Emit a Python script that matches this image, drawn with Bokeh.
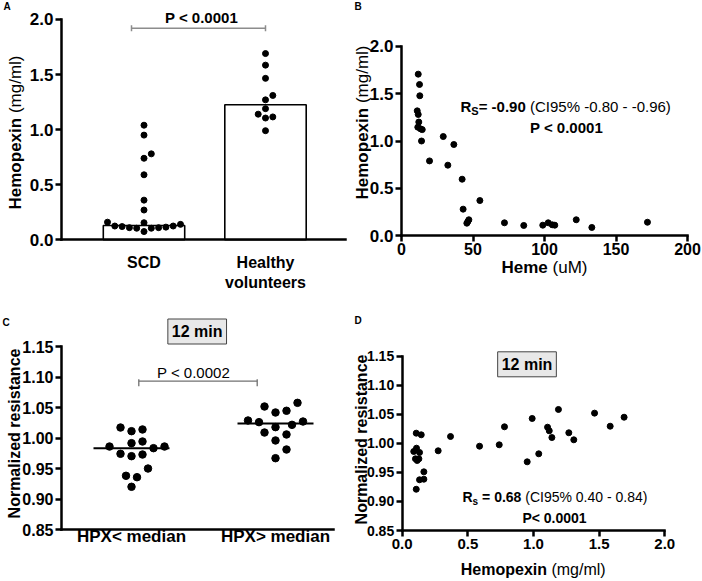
import math
from bokeh.plotting import figure
from bokeh.layouts import row, column
from bokeh.models import Label, Range1d, FixedTicker, LinearAxis, PrintfTickFormatter
from bokeh.embed import file_html
from bokeh.resources import INLINE

# ---------------- data ----------------
groups_a = ["SCD", "Healthy\nvolunteers"]
scd_hpx = [1.04, 0.95, 0.78, 0.74, 0.59, 0.36, 0.27, 0.155, 0.125, 0.12, 0.11,
           0.105, 0.16, 0.075, 0.105, 0.11, 0.115, 0.125, 0.14]
healthy_hpx = [1.69, 1.585, 1.465, 1.31, 1.27, 1.19, 1.115, 1.105, 1.14, 0.99]
bar_median_a = [0.13, 1.225]
p_text_a = "P < 0.0001"

heme_um = [11.7, 12.6, 12.8, 11.0, 11.7, 12.1, 11.4, 13.3, 14.5, 14.0,
           29.2, 36.6, 19.6, 32.4, 42.4, 54.8, 43.1, 45.7, 47.1, 46.4,
           72.0, 85.5, 98.8, 102.6, 105.4, 107.2, 122.2, 133.1, 172.0]
heme_hpx = [1.705, 1.596, 1.477, 1.318, 1.28, 1.2, 1.146, 1.128, 1.12, 1.0,
            1.047, 0.963, 0.79, 0.745, 0.597, 0.372, 0.281, 0.133, 0.169, 0.15,
            0.137, 0.109, 0.112, 0.137, 0.116, 0.112, 0.169, 0.088, 0.143]

groups_c = ["HPX< median", "HPX> median"]
res_low = [1.0174, 1.0114, 1.0142, 0.9945, 0.9918, 0.9863, 0.9836, 0.9863, 0.9744,
           0.9705, 0.9732, 0.9503, 0.9384, 0.9361, 0.9204]
res_high = [1.0578, 1.0448, 1.042, 1.0518, 1.0289, 1.0262, 1.0272, 1.018, 1.0218,
            1.006, 1.0092, 0.9962, 0.9814, 0.9672]
p_text_c = "P < 0.0002"

d_hpx = [0.107, 0.145, 0.088, 0.109, 0.132, 0.101, 0.114, 0.127, 0.165, 0.132, 0.165,
         0.107, 0.274, 0.368, 0.589, 0.739, 0.779, 0.99, 1.19, 1.465, 1.69, 1.584,
         1.107, 1.12, 1.269, 1.14, 1.307, 0.952, 1.04]
d_res = [1.0175, 1.0147, 0.986, 0.9917, 0.9843, 0.9734, 0.9705, 0.9734, 0.951, 0.9373,
         0.9383, 0.921, 0.9872, 1.0118, 0.9951, 0.9975, 1.0285, 1.0428, 1.0583, 1.052,
         1.045, 1.0295, 1.0278, 1.0216, 1.0182, 1.010, 1.0061, 0.9682, 0.982]

hpx_ticks = [0.0, 0.5, 1.0, 1.5, 2.0]
heme_ticks = [0, 50, 100, 150, 200]
res_ticks = [0.85, 0.90, 0.95, 1.00, 1.05, 1.10, 1.15]

# ---------------- helpers ----------------
FONT = "Liberation Sans"
REG = {' ': 278, '(': 333, ')': 333, '%': 889, '-': 333, '.': 278, 'C': 722, 'I': 278,
       'P': 667, '=': 584, '<': 584, '>': 584, 'R': 722, 'S': 667, 's': 500, 'm': 833,
       'g': 556, '/': 278, 'l': 222, 'u': 556, 'M': 833}
BOLD = {' ': 278, '(': 333, ')': 333, '-': 333, '.': 278, '=': 584, '<': 584, '>': 584,
        'R': 722, 'S': 667, 's': 556, 'P': 667, 'H': 722, 'e': 556, 'm': 889, 'o': 611,
        'p': 611, 'x': 556, 'i': 278, 'n': 611, 'N': 722, 'r': 389, 'a': 556, 'l': 278,
        'z': 500, 'd': 611, 't': 333, 'c': 556}


def tw(s, size, bold):
    t = BOLD if bold else REG
    return sum(t.get(ch, 556) for ch in s) * size / 1000.0


class Map:
    """maps pixel positions of the page to data values of one panel"""
    def __init__(self, ix, xv, ppx, iy, yv, ppy):
        self.ix, self.xv, self.ppx, self.iy, self.yv, self.ppy = ix, xv, ppx, iy, yv, ppy

    def X(self, i):
        return self.xv + (i - self.ix) / self.ppx

    def Y(self, j):
        return self.yv - (j - self.iy) / self.ppy


def make_fig(m, cx, cy, w, h):
    p = figure(width=w, height=h, output_backend="svg", toolbar_location=None,
               x_range=Range1d(m.X(cx), m.X(cx + w)), y_range=Range1d(m.Y(cy + h), m.Y(cy)),
               x_axis_location=None, y_axis_location=None,
               min_border=0, min_border_left=0, min_border_right=0,
               min_border_top=0, min_border_bottom=0)
    p.xgrid.visible = False
    p.ygrid.visible = False
    p.outline_line_color = None
    p.background_fill_color = "white"
    p.border_fill_color = "white"
    return p


def add_axis(p, side, loc, bounds, ticks, fmt, size, standoff=2, tick_out=6):
    ax = LinearAxis(fixed_location=loc, bounds=bounds, ticker=FixedTicker(ticks=ticks))
    if fmt is not None:
        ax.formatter = PrintfTickFormatter(format=fmt)
    ax.axis_line_width = 2.5
    ax.axis_line_color = "black"
    ax.axis_line_cap = "square"
    ax.major_tick_line_width = 2.5
    ax.major_tick_line_color = "black"
    ax.major_tick_out = tick_out
    ax.major_tick_in = 0
    ax.minor_tick_line_color = None
    ax.major_label_text_font = FONT
    ax.major_label_text_font_style = "bold"
    ax.major_label_text_font_size = size
    ax.major_label_text_color = "black"
    ax.major_label_standoff = standoff
    p.add_layout(ax, side)
    return ax


def label(p, x, y, text, size, bold=True, align="center", **kw):
    p.add_layout(Label(x=x, y=y, text=text, text_font=FONT, text_font_size=f"{size}px",
                       text_font_style="bold" if bold else "normal", text_color="black",
                       text_align=align, text_baseline="middle", **kw))


def rich(p, segs, x, y, align="center", angle=0.0):
    """segs: (text, size_px, bold, baseline_shift_px) drawn one after another"""
    total = sum(tw(t, s, b) for t, s, b, _ in segs)
    pos = -total / 2 if align == "center" else 0.0
    for t, s, b, sh in segs:
        stripped = t.lstrip(" ")
        pos += tw(t[:len(t) - len(stripped)], s, b)
        if angle == 0:
            xo, yo = pos, sh
        else:
            xo, yo = -sh, pos
        label(p, x, y, stripped, s, b, align="left", angle=angle, x_offset=xo, y_offset=yo)
        pos += tw(stripped, s, b)


def swarm(values, center, ppu_x, ppu_y, gap):
    order = sorted(range(len(values)), key=lambda i: values[i])
    cands = [0.0]
    for j in range(1, 60):
        cands += [j * gap / 2.0, -j * gap / 2.0]
    placed = []
    xs = [0.0] * len(values)
    for i in order:
        py = values[i] * ppu_y
        for c in cands:
            if all((c - qx) ** 2 + (py - qy) ** 2 >= gap * gap - 1e-6 for qx, qy in placed):
                break
        placed.append((c, py))
        xs[i] = center + c / ppu_x
    return xs


# ---------------- panel A ----------------
mA = Map(143.5, 1.0, 121.5, 239.3, 0.0, 110.2)
pA = make_fig(mA, 0, 0, 351, 290)
pA.vbar(x=[1, 2], top=bar_median_a, bottom=0, width=0.67, fill_color="white",
        line_color="black", line_width=1.6)
pA.scatter(swarm(scd_hpx, 1, mA.ppx, mA.ppy, 7.3), scd_hpx, size=6, color="black")
pA.scatter(swarm(healthy_hpx, 2, mA.ppx, mA.ppy, 7.3), healthy_hpx, size=6, color="black")
yb, xl, xr, tk = mA.Y(27.7), mA.X(131), mA.X(265), 3 / mA.ppy
pA.segment(x0=[xl, xl, xr], x1=[xr, xl, xr], y0=[yb, yb + tk, yb + tk], y1=[yb, yb - tk, yb - tk],
           line_color="#8c8c8c", line_width=1.5)
label(pA, mA.X(201), mA.Y(17), p_text_a, 15)
add_axis(pA, "left", mA.X(61), (0, 2), hpx_ticks, "%.1f", "17px")
axA = add_axis(pA, "below", 0, (mA.X(61), mA.X(345)), [1, 2], None, "16px", standoff=14, tick_out=0)
axA.major_label_overrides = {1: groups_a[0], 2: groups_a[1]}
rich(pA, [("Hemopexin", 17, True, 0), (" (mg/ml)", 17, False, 0)], mA.X(15), mA.Y(132),
     angle=math.pi / 2)
label(pA, mA.X(3), mA.Y(6), "A", 10, align="left")

# ---------------- panel B ----------------
mB = Map(401, 0.0, 1.43, 235.3, 0.0, 94.8)
pB = make_fig(mB, 351, 0, 350, 290)
pB.scatter(heme_um, heme_hpx, size=6, color="black")
add_axis(pB, "left", 0, (0, 2), hpx_ticks, "%.1f", "17px")
add_axis(pB, "below", 0, (0, 200), heme_ticks, "%d", "16px", standoff=1)
rich(pB, [("R", 15, True, 0), ("S", 11, True, -4), ("= -0.90", 15, True, 0),
          (" (CI95% -0.80 - -0.96)", 15, False, 0)], mB.X(460), mB.Y(106), align="left")
label(pB, mB.X(566), mB.Y(127), "P < 0.0001", 15)
rich(pB, [("Hemopexin", 17, True, 0), (" (mg/ml)", 17, False, 0)], mB.X(361.5), mB.Y(122),
     angle=math.pi / 2)
rich(pB, [("Heme", 17, True, 0), (" (uM)", 17, False, 0)], mB.X(544), mB.Y(267))
label(pB, mB.X(354), mB.Y(6), "B", 10, align="left")

# ---------------- panel C ----------------
mC = Map(131, 1.0, 144.0, 346, 1.15, 611.0)
pC = make_fig(mC, 0, 290, 351, 290)
pC.scatter(swarm(res_low, 1, mC.ppx, mC.ppy, 11), res_low, size=7.5, color="black")
pC.scatter(swarm(res_high, 2, mC.ppx, mC.ppy, 11), res_high, size=7.5, color="black")
sl, sh_ = sorted(res_low), sorted(res_high)
med_c = [sl[len(sl) // 2], 0.5 * (sh_[len(sh_) // 2 - 1] + sh_[len(sh_) // 2])]
hw = 38 / mC.ppx
pC.segment(x0=[1 - hw, 2 - hw], x1=[1 + hw, 2 + hw], y0=med_c, y1=med_c,
           line_color="black", line_width=2)
yc, xl, xr = mC.Y(380.7), mC.X(138.3), mC.X(256.7)
pC.segment(x0=[xl, xl, xr], x1=[xr, xl, xr],
           y0=[yc, yc + 2 / mC.ppy, yc + 2 / mC.ppy], y1=[yc, yc - 5 / mC.ppy, yc - 5 / mC.ppy],
           line_color="#707070", line_width=1.3)
label(pC, mC.X(193), mC.Y(371.7), p_text_c, 15, bold=False)
label(pC, mC.X(196.7), mC.Y(331), "12 min", 16, background_fill_color="#e8e8e8",
      border_line_color="#444444", border_line_width=1, padding=4)
add_axis(pC, "left", mC.X(61), (0.85, 1.15), res_ticks, "%.2f", "16px")
axC = add_axis(pC, "below", 0.85, (mC.X(61), mC.X(333)), [1, 2], None, "17px", standoff=-3, tick_out=0)
axC.major_label_overrides = {1: groups_c[0], 2: groups_c[1]}
label(pC, mC.X(14.3), mC.Y(433), "Normalized resistance", 16, angle=math.pi / 2)
label(pC, mC.X(2), mC.Y(321.7), "C", 10, align="left")

# ---------------- panel D ----------------
mD = Map(401.7, 0.0, 131.3, 355.7, 1.15, 581.0)
pD = make_fig(mD, 351, 290, 350, 290)
pD.scatter(d_hpx, d_res, size=6, color="black")
label(pD, mD.X(526.5), mD.Y(363.8), "12 min", 16, background_fill_color="#e8e8e8",
      border_line_color="#444444", border_line_width=1, padding=4)
rich(pD, [("R", 14, True, 0), ("s", 10, True, -4), (" = 0.68", 14, True, 0),
          (" (CI95% 0.40 - 0.84)", 14, False, 0)], mD.X(462), mD.Y(496.7), align="left")
label(pD, mD.X(554), mD.Y(517.7), "P< 0.0001", 14)
add_axis(pD, "left", 0, (0.85, 1.15), res_ticks, "%.2f", "14px")
add_axis(pD, "below", 0.85, (0, 2), hpx_ticks, "%.1f", "15px", standoff=2)
label(pD, mD.X(361), mD.Y(439), "Normalized resistance", 16, angle=math.pi / 2)
rich(pD, [("Hemopexin", 16, True, 0), (" (mg/ml)", 16, False, 0)], mD.X(532.7), mD.Y(569))
label(pD, mD.X(354), mD.Y(320), "D", 10, align="left")

layout = column(row(pA, pB), row(pC, pD))
open("out.html", "w").write(file_html(layout, INLINE))
